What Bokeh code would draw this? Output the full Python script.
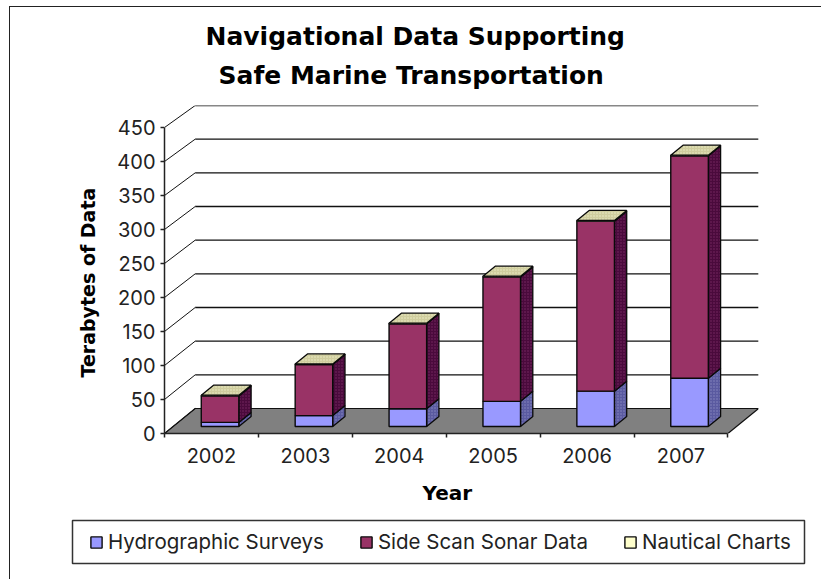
from bokeh.plotting import figure
from bokeh.embed import file_html
from bokeh.resources import INLINE
from bokeh.models import FixedTicker, Legend, LegendItem, Range1d, Title

# ---- data ----
years = ["2002", "2003", "2004", "2005", "2006", "2007"]
hydrographic = [6, 16, 26, 37, 52, 71]
side_scan = [39, 75, 125, 183, 250, 327]
nautical = [1, 1, 1, 1, 1, 1]
y_ticks = [0, 50, 100, 150, 200, 250, 300, 350, 400, 450]
title_lines = ["Navigational Data Supporting", "Safe Marine Transportation"]
series_names = ["Hydrographic Surveys", "Side Scan Sonar Data", "Nautical Charts"]

# ---- oblique projection settings ----
X_PER_CAT = 93.9      # px per category
Y_PER_UNIT = 0.68     # px per value unit
DEPTH_X = 30.7 / X_PER_CAT
def depth_y(v):
    return (25 - 3 * v / 450) / Y_PER_UNIT
BAR_W = 0.4
BAR_FRONT = 0.28      # fraction of floor depth in front of bars
BAR_DEPTH = 0.40      # fraction of floor depth taken by bars

FW, FH = 594, 328
n = len(years)

p = figure(width=812, height=579, frame_width=FW, frame_height=FH,
           min_border_left=154, min_border_right=63, min_border_top=98, min_border_bottom=146,
           x_range=Range1d(0, FW / X_PER_CAT), y_range=Range1d(0, FH / Y_PER_UNIT),
           toolbar_location=None, output_backend="svg",
           background_fill_color="white", border_fill_color="white", outline_line_color=None,
           styles={"position": "absolute", "left": "9px", "top": "6px",
                   "border-left": "1.5px solid #222", "border-top": "1.5px solid #222"})
p.grid.visible = False

# ---- floor and walls ----
p.patch([0, n, n + DEPTH_X, DEPTH_X], [0, 0, depth_y(0), depth_y(0)],
        fill_color="#808080", line_color="#111111", line_width=1.2)
grid_v = y_ticks[1:]
p.multi_line([[DEPTH_X, n + DEPTH_X] for _ in grid_v],
             [[v + depth_y(v), v + depth_y(v)] for v in grid_v],
             line_color="#111111", line_width=1.3)
p.multi_line([[0, DEPTH_X] for _ in y_ticks],
             [[v, v + depth_y(v)] for v in y_ticks],
             line_color="#111111", line_width=1)

# ---- bars ----
FRONT_FILL = ["#9999FF", "#993366", "#FFFFCC"]
SIDE_FILL = ["#5A5AA0", "#4A0A3C", "#A0A070"]
OUT = "#0a0a0a"
stacks = [hydrographic, side_scan, nautical]
base = [0.0] * n
for s, vals in enumerate(stacks):
    tops = [b + v for b, v in zip(base, vals)]
    f = BAR_FRONT
    lefts = [i + 0.5 - BAR_W / 2 + DEPTH_X * f for i in range(n)]
    rights = [l + BAR_W for l in lefts]
    bots = [b + depth_y(0) * f for b in base]
    tps = [t + depth_y(0) * f for t in tops]
    dx = DEPTH_X * BAR_DEPTH
    dy = depth_y(0) * BAR_DEPTH
    side_xs = [[r, r + dx, r + dx, r] for r in rights]
    side_ys = [[b, b + dy, t + dy, t] for b, t in zip(bots, tps)]
    p.patches(side_xs, side_ys, fill_color=SIDE_FILL[s], line_color=OUT, line_width=1.3,
              hatch_pattern="dot" if s < 2 else None, hatch_color="#8a8ac0" if s == 0 else "#7a2a62",
              hatch_scale=3, hatch_weight=0.6)
    p.quad(left=lefts, right=rights, bottom=bots, top=tps,
           fill_color=FRONT_FILL[s], line_color=OUT, line_width=1.4)
    if s == len(stacks) - 1:
        top_xs = [[l, r, r + dx, l + dx] for l, r in zip(lefts, rights)]
        top_ys = [[t, t, t + dy, t + dy] for t in tps]
        p.patches(top_xs, top_ys, fill_color="#CFCD9E", line_color=OUT, line_width=1.3,
                  hatch_pattern="dot", hatch_color="#EEEEC8", hatch_scale=3, hatch_weight=0.6)
    base = tops

# ---- axes ----
TICK_FONT = "Inter"
xa = p.xaxis[0]
xa.ticker = FixedTicker(ticks=[i + 0.5 for i in range(n)], minor_ticks=list(range(n + 1)))
xa.major_label_overrides = {i + 0.5: y for i, y in enumerate(years)}
xa.bounds = (0, n)
xa.major_tick_out = 0; xa.major_tick_in = 0
xa.minor_tick_out = 4; xa.minor_tick_in = 0
xa.major_label_standoff = 10
xa.major_label_text_font = TICK_FONT; xa.major_label_text_font_size = "20px"; xa.major_label_text_color = "#222222"
xa.axis_line_color = "#222222"; xa.axis_line_width = 1.5; xa.minor_tick_line_color = "#222222"; xa.minor_tick_line_width = 1.5

ya = p.yaxis[0]
ya.ticker = FixedTicker(ticks=y_ticks)
ya.bounds = (0, 450)
ya.major_tick_out = 4; ya.major_tick_in = 0
ya.minor_tick_out = 0; ya.minor_tick_in = 0
ya.major_label_standoff = 5
ya.major_label_text_font = TICK_FONT; ya.major_label_text_font_size = "20px"; ya.major_label_text_color = "#222222"
ya.axis_line_color = "#222222"; ya.axis_line_width = 1.5; ya.major_tick_line_color = "#222222"; ya.major_tick_line_width = 1.5

# ---- axis titles, placed relative to the axis extents rather than the frame ----
BOLD = "DejaVu Sans"
p.add_layout(Title(text="Terabytes of Data", align="left", offset=56, standoff=32,
                   text_font=BOLD, text_font_style="bold", text_font_size="19px", text_color="#000000"), "left")
p.add_layout(Title(text="Year", align="left", offset=258, standoff=26,
                   text_font=BOLD, text_font_style="bold", text_font_size="20px", text_color="#000000"), "below")

# ---- title, with a blank line as a spacer below it ----
p.add_layout(Title(text="\u00a0", text_font_size="2px", standoff=8), "above")
p.add_layout(Title(text=title_lines[1], align="left", offset=54, standoff=8,
                   text_font=BOLD, text_font_style="bold", text_font_size="25px", text_color="#000000"), "above")
p.add_layout(Title(text=title_lines[0], align="left", offset=41, standoff=8,
                   text_font=BOLD, text_font_style="bold", text_font_size="25px", text_color="#000000"), "above")

# ---- legend, in its own small figure; the figure's outline is the legend box ----
q = figure(width=736, height=47, x_range=Range1d(0, 1), y_range=Range1d(0, 1),
           toolbar_location=None, output_backend="svg", x_axis_location=None, y_axis_location=None,
           min_border=2, outline_line_color="#333333", outline_line_width=1.5,
           background_fill_color="white", border_fill_color="white",
           styles={"position": "absolute", "left": "70px", "top": "518px"})
q.grid.visible = False
off_range = [2]     # swatch-only renderers: nothing to show inside the legend box
swatches = [q.quad(left=off_range, right=off_range, bottom=off_range, top=off_range,
                   fill_color=c, line_color=OUT, line_width=1.4)
            for c in FRONT_FILL]
legend = Legend(items=[LegendItem(label=nm, renderers=[r]) for nm, r in zip(series_names, swatches)],
                orientation="horizontal", location=(17, 9),
                label_text_font=TICK_FONT, label_text_font_size="20.5px", label_text_color="#222222",
                glyph_width=14, glyph_height=14, label_standoff=5, spacing=35, padding=0, margin=0,
                label_height=15, border_line_color=None, background_fill_alpha=0)
q.add_layout(legend, "center")

open("out.html", "w").write(file_html([p, q], INLINE))
